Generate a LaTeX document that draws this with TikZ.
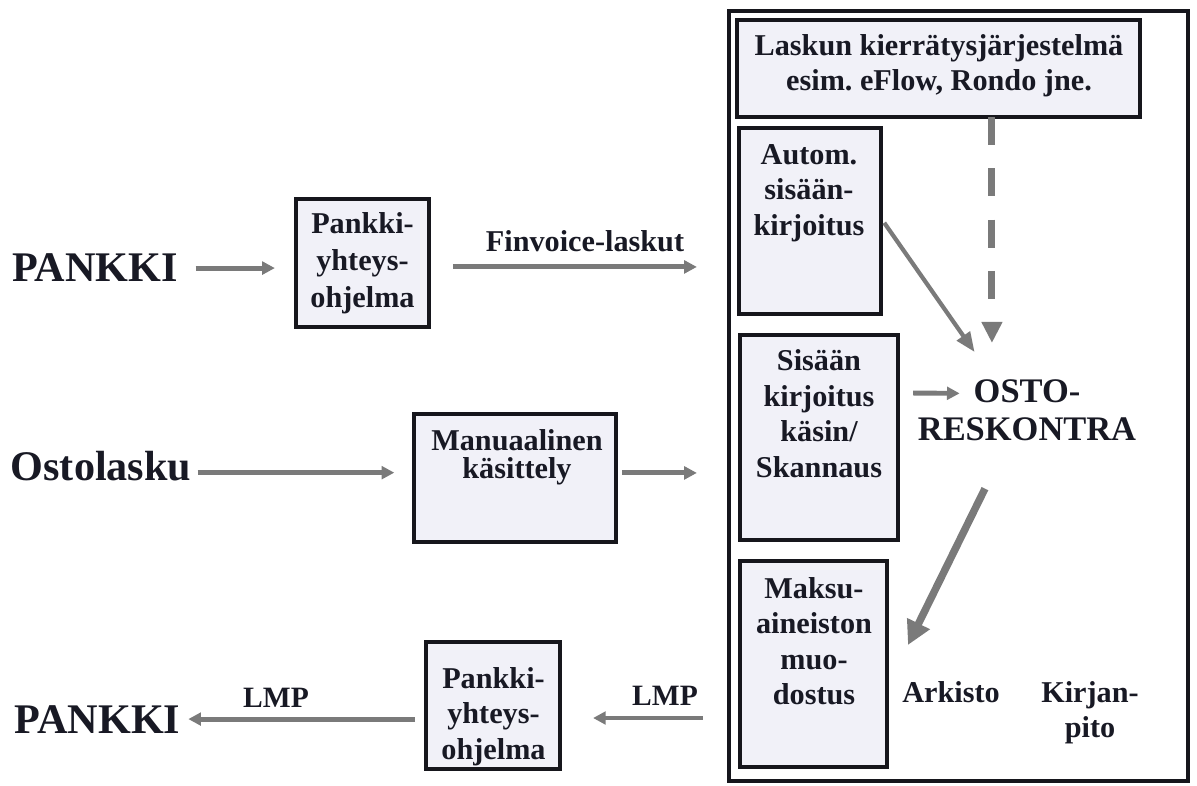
\documentclass[tikz,border=0pt]{standalone}
\usepackage{fontspec}
\setmainfont{Liberation Serif}
\usetikzlibrary{arrows.meta}
\definecolor{laatikkotausta}{RGB}{241,241,248}
\definecolor{nuoliharmaa}{RGB}{122,122,122}
\definecolor{tekstivari}{RGB}{24,25,36}
\definecolor{reunavari}{RGB}{22,22,28}
\frenchspacing

\begin{document}
\begin{tikzpicture}[x=0.025cm, y=-0.025cm,
		laatikko/.style={draw=reunavari, line width=2.3pt, fill=laatikkotausta, inner sep=0pt, outer sep=0pt},
		iso/.style={font=\fontsize{30}{34}\selectfont\bfseries, text=tekstivari, inner sep=0pt, anchor=base},
		teksti/.style={font=\fontsize{21.5}{#1}\selectfont\bfseries, text=tekstivari, inner sep=0pt, align=center, anchor=north},
		teksti/.default=25pt,
		nuoli/.style={draw=nuoliharmaa, line width=3.5pt, -{Triangle[length=9pt,width=9pt]}}]
			
			\useasboundingbox (0,0) rectangle (1197,786);
			
			% iso kehys oikealla
			\node[draw=reunavari, line width=3.2pt, minimum width=11.475cm, minimum height=19.25cm, inner sep=0pt, outer sep=0pt] (kehys) at (958.5,396) {};
			
			% laatikot
			\node[laatikko, minimum width=3.325cm, minimum height=3.2cm] (pyA) at (362.5,263) {};
			\node[laatikko, minimum width=5.05cm, minimum height=3.2cm] (manu) at (515,478) {};
			\node[laatikko, minimum width=3.35cm, minimum height=3.175cm] (pyB) at (493,705.5) {};
			\node[laatikko, minimum width=10.075cm, minimum height=2.425cm] (laskut) at (938.5,68.5) {};
			\node[laatikko, minimum width=3.55cm, minimum height=4.65cm] (autom) at (810,221) {};
			\node[laatikko, minimum width=3.95cm, minimum height=5.125cm] (sisaan) at (819,437.5) {};
			\node[laatikko, minimum width=3.675cm, minimum height=5.15cm] (maksu) at (813.5,664) {};
			
			% tekstit laatikoissa
			\node[teksti=26.3pt] (pyAtxt) at (362.5,212.5) {Pankki-\\yhteys-\\ohjelma};
			\node[teksti=20pt] (manutxt) at (517,429.5) {Manuaalinen\\käsittely};
			\node[teksti] (pyBtxt) at (493.5,667.5) {Pankki-\\yhteys-\\ohjelma};
			\node[teksti] (laskuttxt) at (939,34.5) {Laskun kierrätysjärjestelmä\\esim. eFlow, Rondo jne.};
			\node[teksti] (automtxt) at (809,144.5) {Autom.\\sisään-\\kirjoitus};
			\node[teksti=25.3pt] (sisaantxt) at (819,349.5) {Sisään\\kirjoitus\\käsin/\\Skannaus};
			\node[teksti] (maksutxt) at (814,577.5) {Maksu-\\aineiston\\muo-\\dostus};
			
			% muut tekstit
			\node[iso] (pankki1) at (95,282) {PANKKI};
			\node[iso] (ostolasku) at (101,481) {Ostolasku};
			\node[iso] (pankki2) at (97.5,733) {PANKKI};
			\node[teksti, anchor=base] (finv) at (585,252) {Finvoice-laskut};
			\node[teksti, font=\fontsize{21}{24}\selectfont\bfseries, anchor=base] (lmp1) at (276,707) {LMP};
			\node[teksti, font=\fontsize{21}{24}\selectfont\bfseries, anchor=base] (lmp2) at (665,705) {LMP};
			\node[teksti, font=\fontsize{24.5}{27}\selectfont\bfseries] (osto) at (1027,379) {OSTO-\\RESKONTRA};
			\node[teksti, anchor=base] (arkisto) at (951,702) {Arkisto};
			\node[teksti] (kirjanpito) at (1090,681.5) {Kirjan-\\pito};
			
			% nuolet
			\draw[nuoli, shorten <=12.5pt, shorten >=15pt] (pankki1.east) -- (pankki1.east -| pyA.west);
			\draw[nuoli, shorten <=17pt, shorten >=22.8pt] ([yshift=-2.8pt]pyA.east) -- ([yshift=-2.8pt]pyA.east -| kehys.west);
			\draw[nuoli, shorten <=4.3pt, shorten >=14pt] ([yshift=-4.3pt]ostolasku.east) -- ([yshift=-4.3pt]ostolasku.east -| manu.west);
			\draw[nuoli, shorten <=4.3pt, shorten >=22.8pt] ([yshift=3.6pt]manu.east) -- ([yshift=3.6pt]manu.east -| kehys.west);
			\draw[nuoli, shorten <=18.5pt, shorten >=23.5pt] ([yshift=-8.9pt]pyB.east -| kehys.west) -- ([yshift=-8.9pt]pyB.east);
			\draw[nuoli, shorten <=7.8pt, shorten >=5.5pt] (pankki2.east -| pyB.west) -- (pankki2.east);
			
			\draw[nuoli, shorten <=10.7pt] ([yshift=31.7pt]sisaan.east) -- ([xshift=29.9pt,yshift=11.7pt]osto.west);
			\draw[nuoli, line width=3pt, -{Triangle[length=14pt,width=11pt]}, shorten <=4pt] ([yshift=2pt]autom.east) -- ([xshift=40.5pt,yshift=19.2pt]osto.north west);
			\draw[nuoli, line width=5pt, dash pattern=on 20pt off 16.5pt, -{Triangle[length=15pt,width=14pt]}, shorten >=25.6pt] ([xshift=38pt]laskut.south) -- ([xshift=38pt]laskut.south |- osto.north);
			\draw[nuoli, line width=5.3pt, -{Triangle[length=17pt,width=17pt]}] ([xshift=-29.9pt,yshift=-34.1pt]osto.south) -- ([xshift=14.9pt,yshift=13.5pt]maksu.east);
			
		\end{tikzpicture}
\end{document}
